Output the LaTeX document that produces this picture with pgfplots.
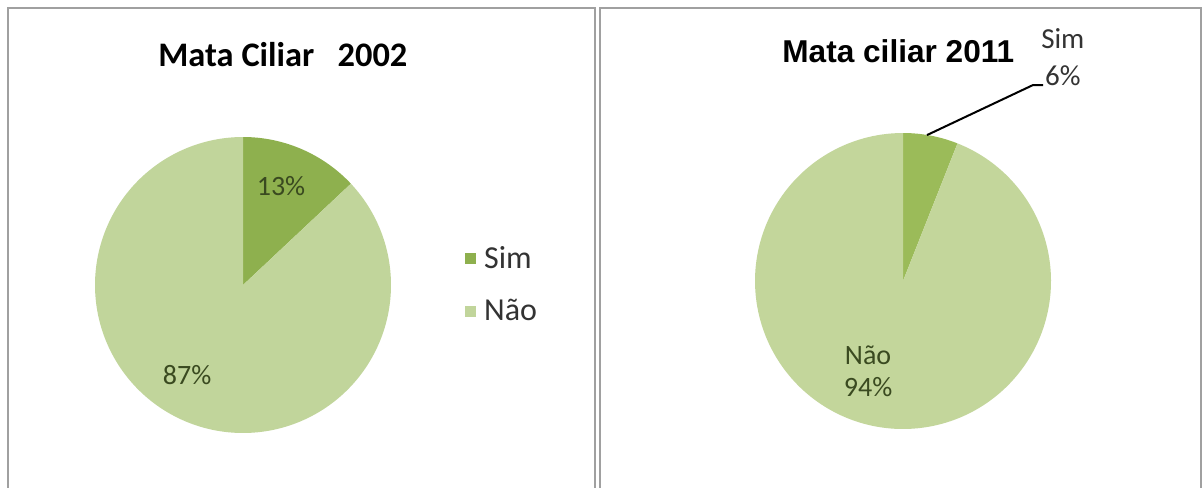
\documentclass[border=0pt]{standalone}
\usepackage{pgfplots}
\pgfplotsset{compat=1.18}
\usepackage{fontspec}
\setmainfont{Carlito}
\newfontfamily\arialfont{Liberation Sans}
\definecolor{simL}{HTML}{8EB04E}
\definecolor{naoL}{HTML}{C1D59B}
\definecolor{simR}{HTML}{9BBB59}
\definecolor{naoR}{HTML}{C3D69B}
\definecolor{lab}{HTML}{3A4A20}
\definecolor{boxc}{HTML}{A0A0A0}
\begin{document}
\begin{tikzpicture}
\begin{scope}[x=0.5pt,y=-0.5pt]
\useasboundingbox (0,0) rectangle (1203,487);
\fill[white] (0,0) rectangle (1203,487);
\draw[boxc, line width=1.3pt] (8,500) -- (8,8) -- (595,8) -- (595,500);
\draw[boxc, line width=1.3pt] (600,500) -- (600,8) -- (1201,8) -- (1201,500);
\node[anchor=base west, inner sep=0pt, font=\fontsize{17.2pt}{20pt}\selectfont\bfseries] at (158,66) {Mata Ciliar\ \ \ 2002};
\node[anchor=base west, inner sep=0pt, font=\fontsize{15.8pt}{19pt}\selectfont\arialfont\bfseries] at (782,62) {Mata ciliar 2011};
\end{scope}

% left pie: Sim 13 %, Nao 87 %
\begin{axis}[at={(121.5pt,-142.5pt)}, anchor=origin, hide axis, scale only axis,
  width=148pt, height=148pt, xmin=-1, xmax=1, ymin=-1, ymax=1, clip=false,
  legend image code/.code={\fill[#1] (0pt,-2.7pt) rectangle (5.4pt,2.7pt); \path (7.4pt,0pt);},
  legend style={at={(axis cs:1.5,0)}, anchor=west, draw=none, fill=none,
    font=\fontsize{16pt}{18pt}\selectfont, text=black!80, row sep=10pt,
    inner sep=0pt, cells={anchor=west}}]
\addplot[fill=simL, draw=none, data cs=polar, domain=43.2:90, samples=40] ({x},{1}) -- (axis cs:0,0) -- cycle;
\addlegendentry{Sim}
\addplot[fill=naoL, draw=none, data cs=polar, domain=-270:43.2, samples=200] ({x},{1}) -- (axis cs:0,0) -- cycle;
\addlegendentry{Não}
\node[text=lab, font=\fontsize{14pt}{16pt}\selectfont] at (axis cs:0.257,0.669) {13\%};
\node[text=lab, font=\fontsize{14pt}{16pt}\selectfont] at (axis cs:-0.378,-0.608) {87\%};
\end{axis}

% right pie: Sim 6 %, Nao 94 %
\begin{axis}[at={(451.5pt,-140.5pt)}, anchor=origin, hide axis, scale only axis,
  width=148pt, height=148pt, xmin=-1, xmax=1, ymin=-1, ymax=1, clip=false]
\addplot[fill=simR, draw=none, data cs=polar, domain=68.4:90, samples=30] ({x},{1}) -- (axis cs:0,0) -- cycle;
\addplot[fill=naoR, draw=none, data cs=polar, domain=-270:68.4, samples=200] ({x},{1}) -- (axis cs:0,0) -- cycle;
\draw[black, line width=1pt] (axis cs:0.162,0.986) -- (axis cs:0.878,1.324) -- (axis cs:0.946,1.324);
\node[anchor=base, text=black!80, font=\fontsize{14.5pt}{16pt}\selectfont] at (axis cs:1.08,1.568) {Sim};
\node[anchor=base, text=black!80, font=\fontsize{14.5pt}{16pt}\selectfont] at (axis cs:1.08,1.324) {6\%};
\node[text=lab, font=\fontsize{14pt}{16pt}\selectfont] at (axis cs:-0.236,-0.5) {Não};
\node[text=lab, font=\fontsize{14pt}{16pt}\selectfont] at (axis cs:-0.236,-0.716) {94\%};
\end{axis}
\end{tikzpicture}
\end{document}
